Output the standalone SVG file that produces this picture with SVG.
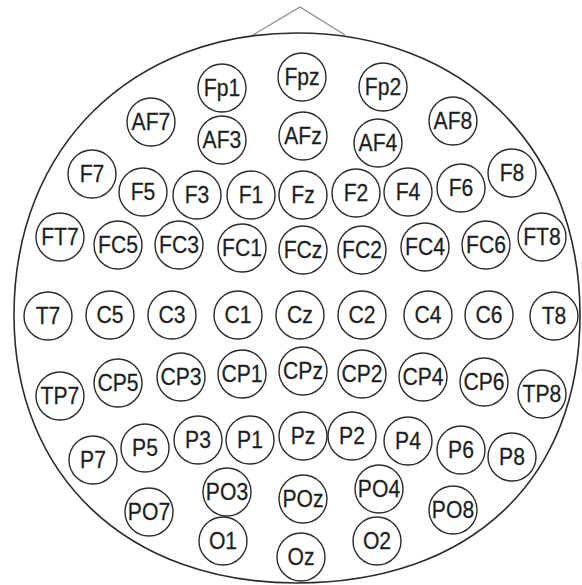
<svg xmlns="http://www.w3.org/2000/svg" width="582" height="585" viewBox="0 0 582 585">
<style>
.n circle{fill:none;stroke:#2a2a2a;stroke-width:1.4}
.n text{font-family:"Liberation Sans",Arial,sans-serif;font-size:23px;fill:#1e1e1e;stroke:#1e1e1e;stroke-width:0.25;text-anchor:middle;transform:scale(0.92,1)}
.head{fill:none;stroke:#2a2a2a;stroke-width:1.6}
.nose{fill:none;stroke:#888;stroke-width:1.1}
</style>
<rect width="582" height="585" fill="#fff"/>
<g id="connectors">
<polyline class="nose" points="253,35 300,7 345,35"/>
<path class="head" d="M297,33 C461,33 580,145.8 580,315 C580,480 470,583 297,583 C127.2,583 14,475.8 14,315 C14,145.8 133,33 297,33 Z"/>
</g>
<g id="Fp1" class="n" transform="translate(222,88)"><circle r="24"/><text y="8.3">Fp1</text></g>
<g id="Fpz" class="n" transform="translate(302,77)"><circle r="24"/><text y="8.3">Fpz</text></g>
<g id="Fp2" class="n" transform="translate(383,87)"><circle r="24"/><text y="8.3">Fp2</text></g>
<g id="AF7" class="n" transform="translate(151,122)"><circle r="24"/><text y="8.3">AF7</text></g>
<g id="AF3" class="n" transform="translate(222,140)"><circle r="24"/><text y="8.3">AF3</text></g>
<g id="AFz" class="n" transform="translate(303,136)"><circle r="24"/><text y="8.3">AFz</text></g>
<g id="AF4" class="n" transform="translate(378,143)"><circle r="24"/><text y="8.3">AF4</text></g>
<g id="AF8" class="n" transform="translate(453,121)"><circle r="24"/><text y="8.3">AF8</text></g>
<g id="F7" class="n" transform="translate(92,174)"><circle r="24"/><text y="8.3">F7</text></g>
<g id="F5" class="n" transform="translate(143,192)"><circle r="24"/><text y="8.3">F5</text></g>
<g id="F3" class="n" transform="translate(197,195)"><circle r="24"/><text y="8.3">F3</text></g>
<g id="F1" class="n" transform="translate(251,195)"><circle r="24"/><text y="8.3">F1</text></g>
<g id="Fz" class="n" transform="translate(303,195)"><circle r="24"/><text y="8.3">Fz</text></g>
<g id="F2" class="n" transform="translate(356,193)"><circle r="24"/><text y="8.3">F2</text></g>
<g id="F4" class="n" transform="translate(408,192)"><circle r="24"/><text y="8.3">F4</text></g>
<g id="F6" class="n" transform="translate(461,188)"><circle r="24"/><text y="8.3">F6</text></g>
<g id="F8" class="n" transform="translate(512,173)"><circle r="24"/><text y="8.3">F8</text></g>
<g id="FT7" class="n" transform="translate(60,237)"><circle r="24"/><text y="8.3">FT7</text></g>
<g id="FC5" class="n" transform="translate(118,245)"><circle r="24"/><text y="8.3">FC5</text></g>
<g id="FC3" class="n" transform="translate(179,245)"><circle r="24"/><text y="8.3">FC3</text></g>
<g id="FC1" class="n" transform="translate(242,248)"><circle r="24"/><text y="8.3">FC1</text></g>
<g id="FCz" class="n" transform="translate(303,250)"><circle r="24"/><text y="8.3">FCz</text></g>
<g id="FC2" class="n" transform="translate(362,250)"><circle r="24"/><text y="8.3">FC2</text></g>
<g id="FC4" class="n" transform="translate(425,247)"><circle r="24"/><text y="8.3">FC4</text></g>
<g id="FC6" class="n" transform="translate(486,245)"><circle r="24"/><text y="8.3">FC6</text></g>
<g id="FT8" class="n" transform="translate(542,237)"><circle r="24"/><text y="8.3">FT8</text></g>
<g id="T7" class="n" transform="translate(48,316)"><circle r="24"/><text y="8.3">T7</text></g>
<g id="C5" class="n" transform="translate(110,315)"><circle r="24"/><text y="8.3">C5</text></g>
<g id="C3" class="n" transform="translate(172,315)"><circle r="24"/><text y="8.3">C3</text></g>
<g id="C1" class="n" transform="translate(238,315)"><circle r="24"/><text y="8.3">C1</text></g>
<g id="Cz" class="n" transform="translate(300,315)"><circle r="24"/><text y="8.3">Cz</text></g>
<g id="C2" class="n" transform="translate(362,315)"><circle r="24"/><text y="8.3">C2</text></g>
<g id="C4" class="n" transform="translate(428,315)"><circle r="24"/><text y="8.3">C4</text></g>
<g id="C6" class="n" transform="translate(489,315)"><circle r="24"/><text y="8.3">C6</text></g>
<g id="T8" class="n" transform="translate(554,316)"><circle r="24"/><text y="8.3">T8</text></g>
<g id="TP7" class="n" transform="translate(60,396)"><circle r="24"/><text y="8.3">TP7</text></g>
<g id="CP5" class="n" transform="translate(118,383)"><circle r="24"/><text y="8.3">CP5</text></g>
<g id="CP3" class="n" transform="translate(181,377)"><circle r="24"/><text y="8.3">CP3</text></g>
<g id="CP1" class="n" transform="translate(242,374)"><circle r="24"/><text y="8.3">CP1</text></g>
<g id="CPz" class="n" transform="translate(303,371)"><circle r="24"/><text y="8.3">CPz</text></g>
<g id="CP2" class="n" transform="translate(362,374)"><circle r="24"/><text y="8.3">CP2</text></g>
<g id="CP4" class="n" transform="translate(423,377)"><circle r="24"/><text y="8.3">CP4</text></g>
<g id="CP6" class="n" transform="translate(484,382)"><circle r="24"/><text y="8.3">CP6</text></g>
<g id="TP8" class="n" transform="translate(542,394)"><circle r="24"/><text y="8.3">TP8</text></g>
<g id="P7" class="n" transform="translate(93,460)"><circle r="24"/><text y="8.3">P7</text></g>
<g id="P5" class="n" transform="translate(145,448)"><circle r="24"/><text y="8.3">P5</text></g>
<g id="P3" class="n" transform="translate(198,440)"><circle r="24"/><text y="8.3">P3</text></g>
<g id="P1" class="n" transform="translate(250,440)"><circle r="24"/><text y="8.3">P1</text></g>
<g id="Pz" class="n" transform="translate(303,436)"><circle r="24"/><text y="8.3">Pz</text></g>
<g id="P2" class="n" transform="translate(352,436)"><circle r="24"/><text y="8.3">P2</text></g>
<g id="P4" class="n" transform="translate(408,441)"><circle r="24"/><text y="8.3">P4</text></g>
<g id="P6" class="n" transform="translate(461,450)"><circle r="24"/><text y="8.3">P6</text></g>
<g id="P8" class="n" transform="translate(512,457)"><circle r="24"/><text y="8.3">P8</text></g>
<g id="PO7" class="n" transform="translate(149,512)"><circle r="24"/><text y="8.3">PO7</text></g>
<g id="PO3" class="n" transform="translate(227,492)"><circle r="24"/><text y="8.3">PO3</text></g>
<g id="POz" class="n" transform="translate(303,499)"><circle r="24"/><text y="8.3">POz</text></g>
<g id="PO4" class="n" transform="translate(379,489)"><circle r="24"/><text y="8.3">PO4</text></g>
<g id="PO8" class="n" transform="translate(453,510)"><circle r="24"/><text y="8.3">PO8</text></g>
<g id="O1" class="n" transform="translate(223,541)"><circle r="24"/><text y="8.3">O1</text></g>
<g id="Oz" class="n" transform="translate(301,557)"><circle r="24"/><text y="8.3">Oz</text></g>
<g id="O2" class="n" transform="translate(377,541)"><circle r="24"/><text y="8.3">O2</text></g>
</svg>
